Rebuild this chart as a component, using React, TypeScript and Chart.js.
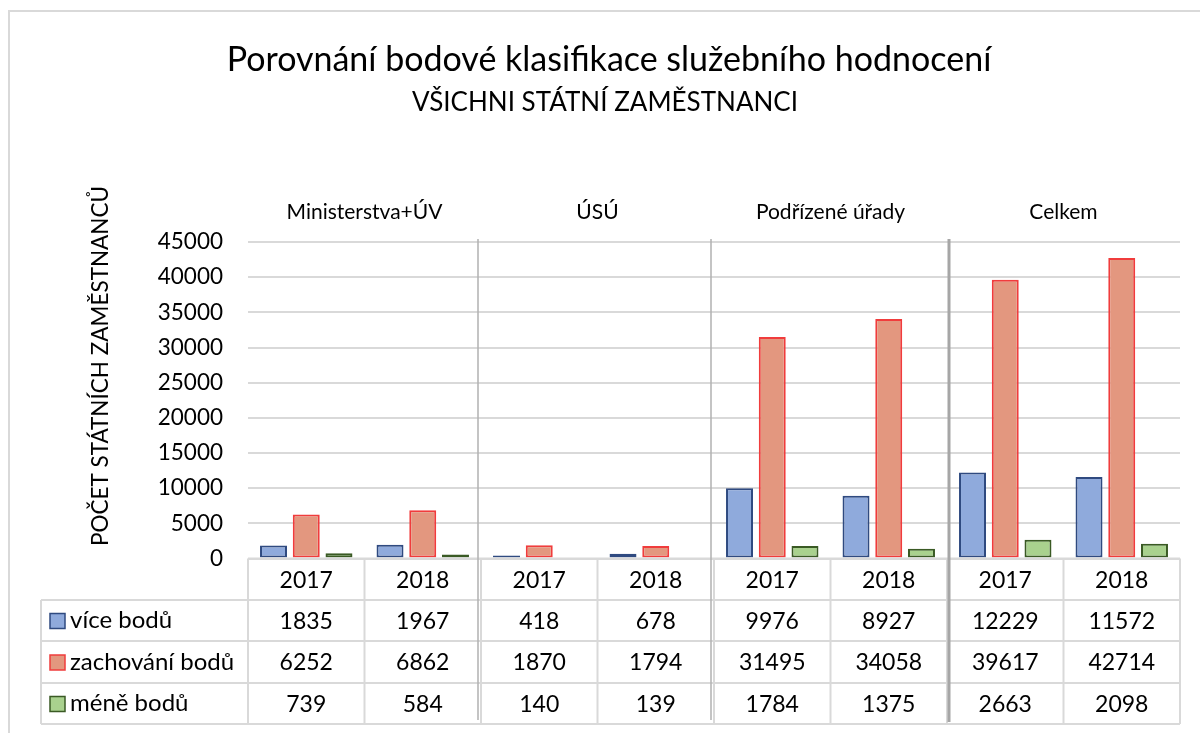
import React, { useEffect, useRef } from "react";
import { Chart, registerables } from "chart.js";

Chart.register(...registerables);

const TITLE = "Porovnání bodové klasifikace služebního hodnocení";
const SUBTITLE = "VŠICHNI STÁTNÍ ZAMĚSTNANCI";
const Y_TITLE = "POČET STÁTNÍCH ZAMĚSTNANCŮ";

const years = ["2017", "2018", "2017", "2018", "2017", "2018", "2017", "2018"];
const groups = ["Ministerstva+ÚV", "ÚSÚ", "Podřízené úřady", "Celkem"];

const seriesNames = ["více bodů", "zachování bodů", "méně bodů"];
const viceBodu = [1835, 1967, 418, 678, 9976, 8927, 12229, 11572];
const zachovaniBodu = [6252, 6862, 1870, 1794, 31495, 34058, 39617, 42714];
const meneBodu = [739, 584, 140, 139, 1784, 1375, 2663, 2098];

const fills = ["#8faadc", "#e3977f", "#a9d18e"];
const borders = ["#2f4a80", "#f03c3c", "#3a5a24"];

const FONT = "Lato, 'Open Sans', sans-serif";

const decorPlugin = {
  id: "decor",
  beforeDraw(chart: any) {
    const ctx = chart.ctx;
    ctx.save();
    ctx.fillStyle = "#ffffff";
    ctx.fillRect(0, 0, chart.width, chart.height);
    ctx.strokeStyle = "#d9d9d9";
    ctx.lineWidth = 2;
    ctx.strokeRect(9, 11, 1220, 760);

    ctx.fillStyle = "#000";
    ctx.textAlign = "center";
    ctx.textBaseline = "middle";
    ctx.font = `34px ${FONT}`;
    ctx.fillText(TITLE, 609, 60);
    ctx.font = `26px ${FONT}`;
    ctx.fillText(SUBTITLE, 605, 103);

    ctx.save();
    ctx.translate(101, 366);
    ctx.rotate(-Math.PI / 2);
    ctx.font = `22.5px ${FONT}`;
    ctx.fillText(Y_TITLE, 0, 0);
    ctx.restore();

    const xs = chart.scales.x;
    ctx.font = `21px ${FONT}`;
    groups.forEach((g, i) => {
      const cx = (xs.getPixelForValue(i * 2) + xs.getPixelForValue(i * 2 + 1)) / 2;
      ctx.fillText(g, cx, 212);
    });
    ctx.restore();
  },
  afterDraw(chart: any) {
    const ctx = chart.ctx;
    const xs = chart.scales.x;
    const area = chart.chartArea;
    const n = years.length;
    const colW = (area.right - area.left) / n;
    const rowTops = [area.bottom, 600, 641, 683, 724];
    ctx.save();
    ctx.strokeStyle = "#d9d9d9";
    ctx.lineWidth = 2;
    ctx.beginPath();
    ctx.moveTo(area.left, rowTops[0]);
    ctx.lineTo(area.right, rowTops[0]);
    for (let r = 1; r < rowTops.length; r++) {
      ctx.moveTo(41, rowTops[r]);
      ctx.lineTo(area.right, rowTops[r]);
    }
    for (let c = 0; c <= n; c++) {
      const x = area.left + c * colW;
      ctx.moveTo(x, rowTops[0]);
      ctx.lineTo(x, rowTops[4]);
    }
    ctx.moveTo(41, rowTops[1]);
    ctx.lineTo(41, rowTops[4]);
    ctx.stroke();

    [2, 4].forEach((c) => {
      const x = area.left + c * colW - 3;
      ctx.strokeStyle = "#b0b0b0";
      ctx.lineWidth = 1.5;
      ctx.beginPath();
      ctx.moveTo(x, 239);
      ctx.lineTo(x, 720);
      ctx.stroke();
    });
    {
      const x = area.left + 6 * colW + 2;
      ctx.strokeStyle = "#a6a6a6";
      ctx.lineWidth = 3;
      ctx.beginPath();
      ctx.moveTo(x, 239);
      ctx.lineTo(x, 722);
      ctx.stroke();
    }

    ctx.fillStyle = "#000";
    ctx.textBaseline = "middle";
    ctx.textAlign = "center";
    ctx.font = `23px ${FONT}`;
    const data = [viceBodu, zachovaniBodu, meneBodu];
    for (let c = 0; c < n; c++) {
      const cx = xs.getPixelForValue(c);
      ctx.fillText(years[c], cx, (rowTops[0] + rowTops[1]) / 2 + 1);
      for (let r = 0; r < 3; r++) {
        ctx.fillText(String(data[r][c]), cx, (rowTops[r + 1] + rowTops[r + 2]) / 2 + 1);
      }
    }
    ctx.textAlign = "left";
    ctx.font = `24px ${FONT}`;
    for (let r = 0; r < 3; r++) {
      const cy = (rowTops[r + 1] + rowTops[r + 2]) / 2;
      ctx.fillStyle = fills[r];
      ctx.fillRect(50, cy - 7, 15, 15);
      ctx.strokeStyle = borders[r];
      ctx.lineWidth = 1.5;
      ctx.strokeRect(50, cy - 7, 15, 15);
      ctx.fillStyle = "#000";
      ctx.fillText(seriesNames[r], 70, cy);
    }
    ctx.restore();
  },
};

export default function App() {
  const ref = useRef<HTMLCanvasElement>(null);
  useEffect(() => {
    if (!ref.current) return;
    const seriesData = [viceBodu, zachovaniBodu, meneBodu];
    const chart = new Chart(ref.current, {
      type: "bar",
      data: {
        labels: years,
        datasets: seriesNames.map((name, i) => ({
          label: name,
          data: seriesData[i],
          backgroundColor: fills[i],
          borderColor: borders[i],
          borderWidth: 2,
          borderSkipped: false,
          categoryPercentage: 0.843,
          barPercentage: 0.824,
        })),
      },
      options: {
        responsive: false,
        animation: false,
        devicePixelRatio: 1,
        layout: { padding: { left: 0, right: 20, top: 242, bottom: 174.5 } },
        plugins: {
          legend: { display: false },
          title: { display: false },
          tooltip: { enabled: false },
        },
        scales: {
          x: { display: false },
          y: {
            min: 0,
            max: 45000,
            ticks: {
              stepSize: 5000,
              color: "#000",
              padding: 25,
              font: { family: FONT, size: 22.5 },
              callback: (v: any) => String(v),
            },
            grid: { color: "#d9d9d9", lineWidth: 2, drawTicks: false },
            border: { display: false },
            afterFit: (scale: any) => {
              scale.width = 248;
            },
          },
        },
      },
      plugins: [decorPlugin],
    });
    return () => chart.destroy();
  }, []);
  return (
    <div style={{ position: "fixed", left: 0, top: 0, width: 1200, height: 733, background: "#fff" }}>
      <canvas ref={ref} width={1200} height={733} style={{ width: 1200, height: 733, display: "block" }} />
    </div>
  );
}
